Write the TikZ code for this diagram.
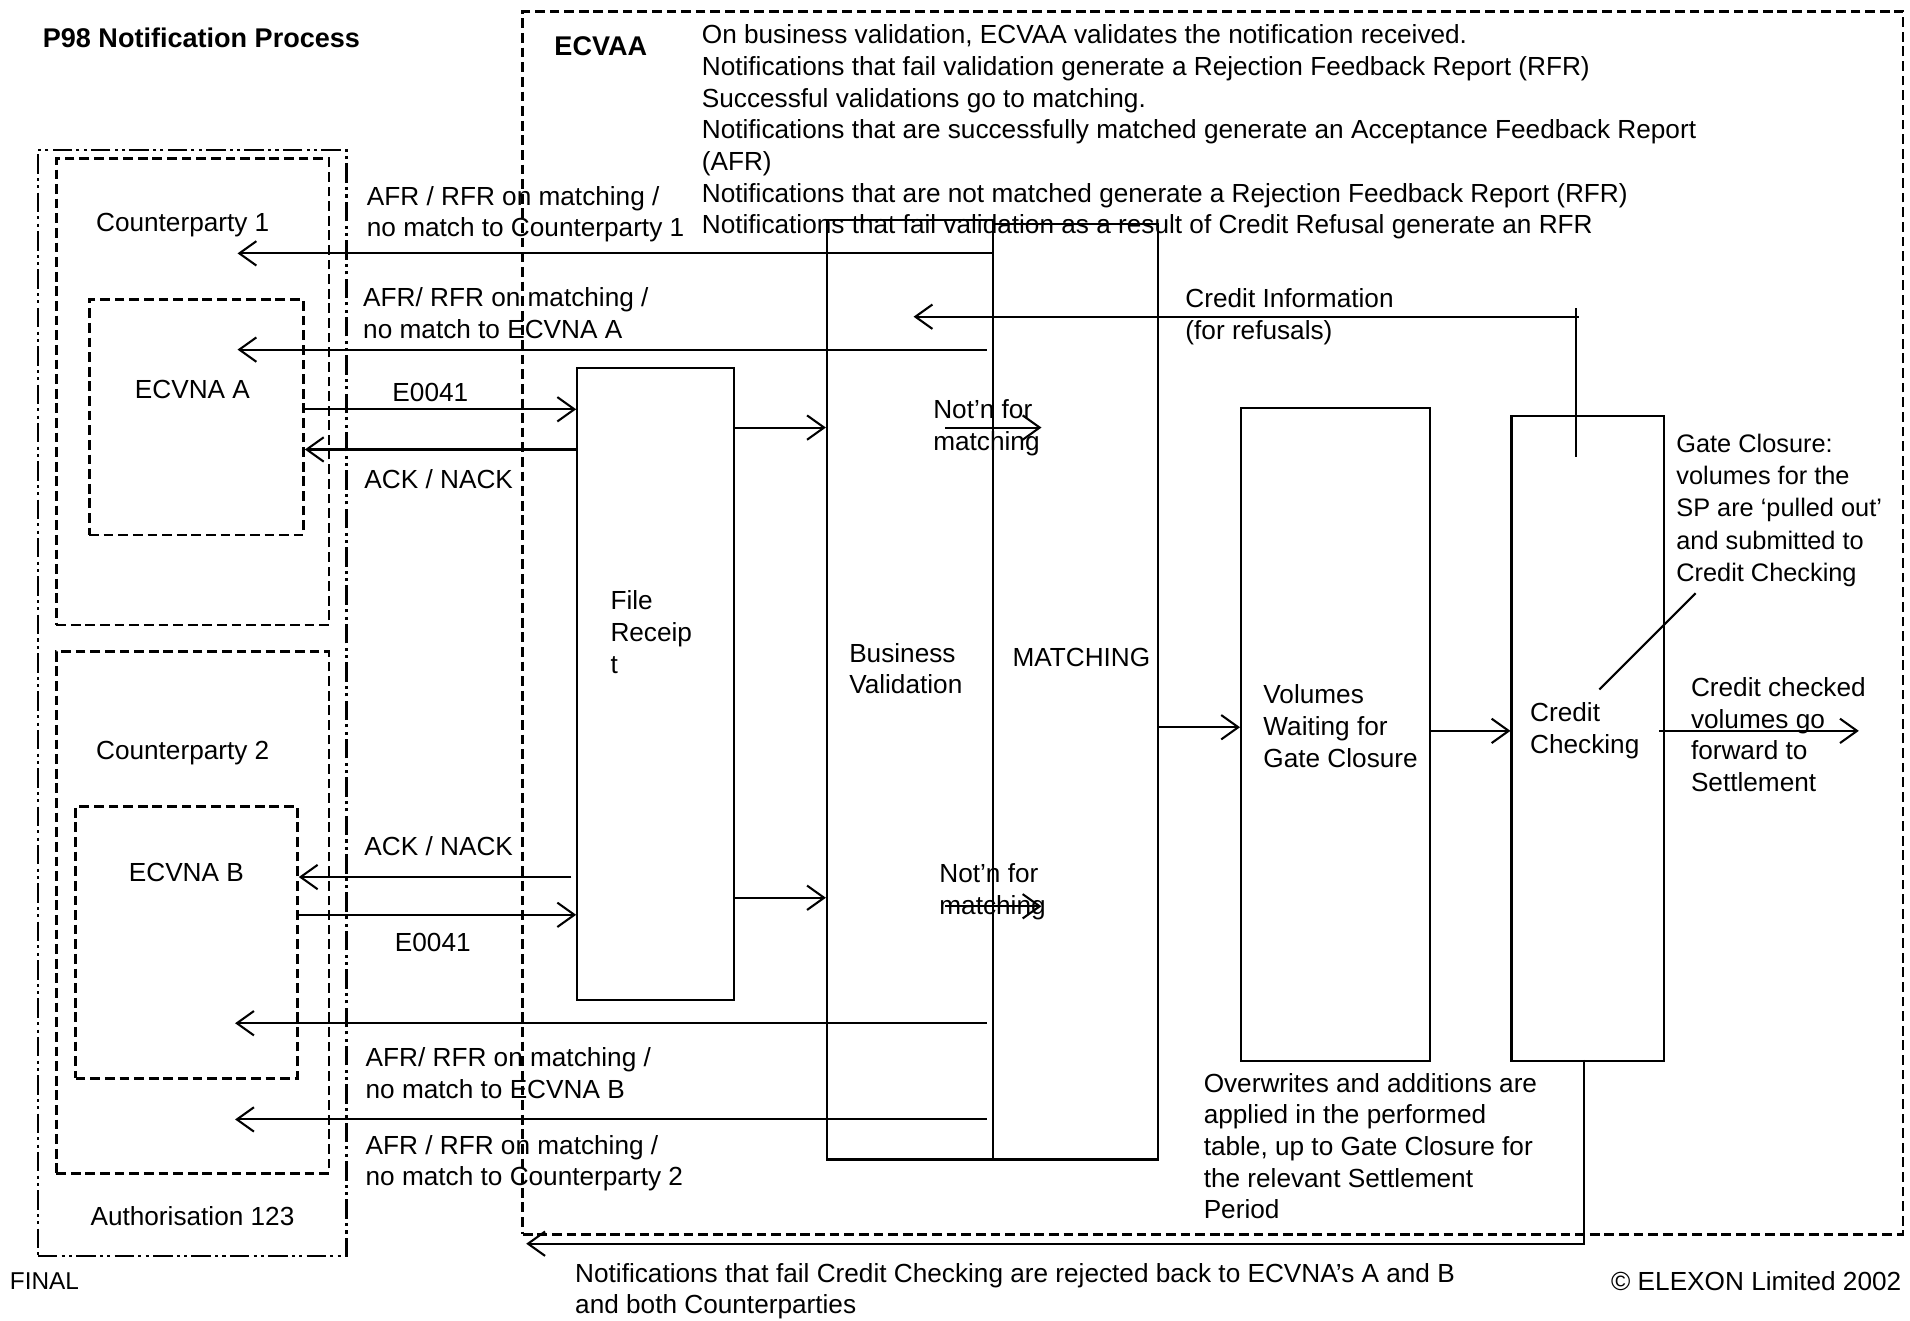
\documentclass[tikz,border=0pt]{standalone}
\usepackage{fontspec}
\setmainfont{Liberation Sans}
\usetikzlibrary{arrows.meta,calc}
\begin{document}
\begin{tikzpicture}[x=1pt,y=-1pt,
  txt/.style={font=\fontsize{21.5}{26}\selectfont, inner sep=0pt, anchor=west, align=left},
  ctxt/.style={txt, anchor=center, align=center},
  btxt/.style={txt, font=\fontsize{22.2}{26}\selectfont\bfseries},
  box/.style={draw, line width=1.7pt, rectangle, inner sep=0pt, anchor=north west},
  dbox/.style={box, line width=2.3pt, dash pattern=on 8pt off 4pt},
  ddbox/.style={box, line width=2.3pt, dash pattern=on 16pt off 3.5pt on 2.5pt off 3.5pt on 2.5pt off 3.5pt},
  arr/.style={line width=1.7pt, -{Straight Barb[length=14pt,width=20pt,line width=1.7pt]}},
  ln/.style={line width=1.7pt}]
\useasboundingbox (0,0) rectangle (1568,1084);

% titles
\node[btxt] (title) at (35,31) {P98 Notification Process};
\node[dbox, minimum width=1133, minimum height=1004] (ecvaa) at (428,8) {};
\node[btxt] (ecvaalbl) at (455,38) {ECVAA};
\node[txt] (desc) at (576,108.5) {On business validation, ECVAA validates the notification received.\\
Notifications that fail validation generate a Rejection Feedback Report (RFR)\\
Successful validations go to matching.\\
Notifications that are successfully matched generate an Acceptance Feedback Report\\
(AFR)\\
Notifications that are not matched generate a Rejection Feedback Report (RFR)\\
Notifications that fail validation as a result of Credit Refusal generate an RFR};

% participants
\node[ddbox, minimum width=253, minimum height=908] (auth) at (30,122) {};
\node[dbox, minimum width=224, minimum height=383] (cp1) at (45,129) {};
\node[dbox, minimum width=176, minimum height=193] (ecA) at (72,245) {};
\node[dbox, minimum width=224, minimum height=428] (cp2) at (45,534) {};
\node[dbox, minimum width=182, minimum height=223] (ecB) at (61,661) {};
\node[ctxt] (cp1lbl) at (150,185) {Counterparty 1};
\node[ctxt] (ecAlbl) at (158,320) {ECVNA A};
\node[ctxt] (cp2lbl) at (150,618) {Counterparty 2};
\node[ctxt] (ecBlbl) at (153,716) {ECVNA B};
\node[ctxt] (authlbl) at (158,998) {Authorisation 123};

% process boxes
\node[box, minimum width=129, minimum height=519] (fr) at (473,301) {};
\node[box, minimum width=136, minimum height=771] (bv) at (678,180) {};
\node[box, minimum width=136, minimum height=768] (mt) at (814,183) {};
\node[box, minimum width=155, minimum height=536] (vw) at (1018,334) {};
\node[box, minimum width=125, minimum height=529] (cc) at (1240,341) {};
\node[txt] (frlbl) at (501,519) {File\\Receip\\t};
\node[txt] (bvlbl) at (697,549) {Business\\Validation};
\node[txt] (mtlbl) at (831,540) {MATCHING};
\node[txt] (vwlbl) at (1037,596) {Volumes\\Waiting for\\Gate Closure};
\node[txt] (cclbl) at (1256,600) {Credit\\Checking};

% coordinates
\coordinate (cp1end) at (195,208);
\coordinate (ecAend) at (195,287);
\coordinate (ecBend) at (193,840);
\coordinate (cp2end) at (193,919);
\coordinate (yE1) at (0,336);
\coordinate (yK1) at (0,369);
\coordinate (yK2) at (0,720);
\coordinate (yE2) at (0,751);
\coordinate (yF1) at (0,351);
\coordinate (yF2) at (0,737);
\coordinate (n1s) at (776,351);
\coordinate (n1e) at (855,351);
\coordinate (n2s) at (776,744);
\coordinate (n2e) at (855,744);
\coordinate (ciTop) at (1294,253);
\coordinate (ciBot) at (1294,375);
\coordinate (ciStart) at (1296,260);
\coordinate (ciEnd) at (750,260);
\coordinate (yMV) at (0,597);
\coordinate (yVC) at (0,600);
\coordinate (outEnd) at (1526,600);
\coordinate (gcA) at (1392,487);
\coordinate (gcB) at (1313,566);
\coordinate (cfTop) at (1300,870);
\coordinate (cfCorner) at (1300,1021);
\coordinate (cfEnd) at (432,1021);

% arrows to participants
\draw[arr] (mt.west |- cp1end) -- (cp1end);
\draw[arr] (810,287) -- (ecAend);
\draw[arr] (810,840) -- (ecBend);
\draw[arr] (810,919) -- (cp2end);
\draw[arr] (ecA.east |- yE1) -- (fr.west |- yE1);
\draw[arr] (fr.west |- yK1) -- (ecA.east |- yK1);
\draw[arr] (469,720) -- (ecB.east |- yK2);
\draw[arr] (ecB.east |- yE2) -- (fr.west |- yE2);

% process flow
\draw[arr] (fr.east |- yF1) -- (bv.west |- yF1);
\draw[arr] (fr.east |- yF2) -- (bv.west |- yF2);
\draw[arr] (n1s) -- (n1e);
\draw[arr] (n2s) -- (n2e);
\draw[arr] (mt.east |- yMV) -- (vw.west |- yMV);
\draw[arr] (vw.east |- yVC) -- (cc.west |- yVC);
\draw[arr] (1362,600) -- (outEnd);
\draw[ln] (ciTop) -- (ciBot);
\draw[arr] (ciStart) -- (ciEnd);
\draw[ln] (gcA) -- (gcB);
\draw[arr] (cfTop) -- (cfCorner) -- (cfEnd);

% labels
\node[txt] (l1) at (301,176) {AFR / RFR on matching /\\no match to Counterparty 1};
\node[txt] (l2) at (298,257) {AFR/ RFR on matching /\\no match to ECVNA A};
\node[txt] (l3) at (322,322) {E0041};
\node[txt] (l4) at (299,393) {ACK / NACK};
\node[txt] (l5) at (766,351) {Not’n for\\matching};
\node[txt] (l6) at (771,732) {Not’n for\\matching};
\node[txt] (l7) at (973,260) {Credit Information\\(for refusals)};
\node[txt, font=\fontsize{20.8}{26.5}\selectfont] (l8) at (1376,419) {Gate Closure:\\volumes for the\\SP are ‘pulled out’\\and submitted to\\Credit Checking};
\node[txt] (l9) at (1388,603) {Credit checked\\volumes go\\forward to\\Settlement};
\node[txt] (l10) at (299,695) {ACK / NACK};
\node[txt] (l11) at (324,774) {E0041};
\node[txt] (l12) at (300,881) {AFR/ RFR on matching /\\no match to ECVNA B};
\node[txt] (l13) at (300,955) {AFR / RFR on matching /\\no match to Counterparty 2};
\node[txt] (l14) at (988,941) {Overwrites and additions are\\applied in the performed\\table, up to Gate Closure for\\the relevant Settlement\\Period};
\node[txt] (l15) at (472,1060) {Notifications that fail Credit Checking are rejected back to ECVNA’s A and B\\and both Counterparties};
\node[txt, font=\fontsize{20}{26}\selectfont] (final) at (8,1052) {FINAL};
\node[txt, anchor=east] (copy) at (1561,1052) {© ELEXON Limited 2002};
\end{tikzpicture}
\end{document}
